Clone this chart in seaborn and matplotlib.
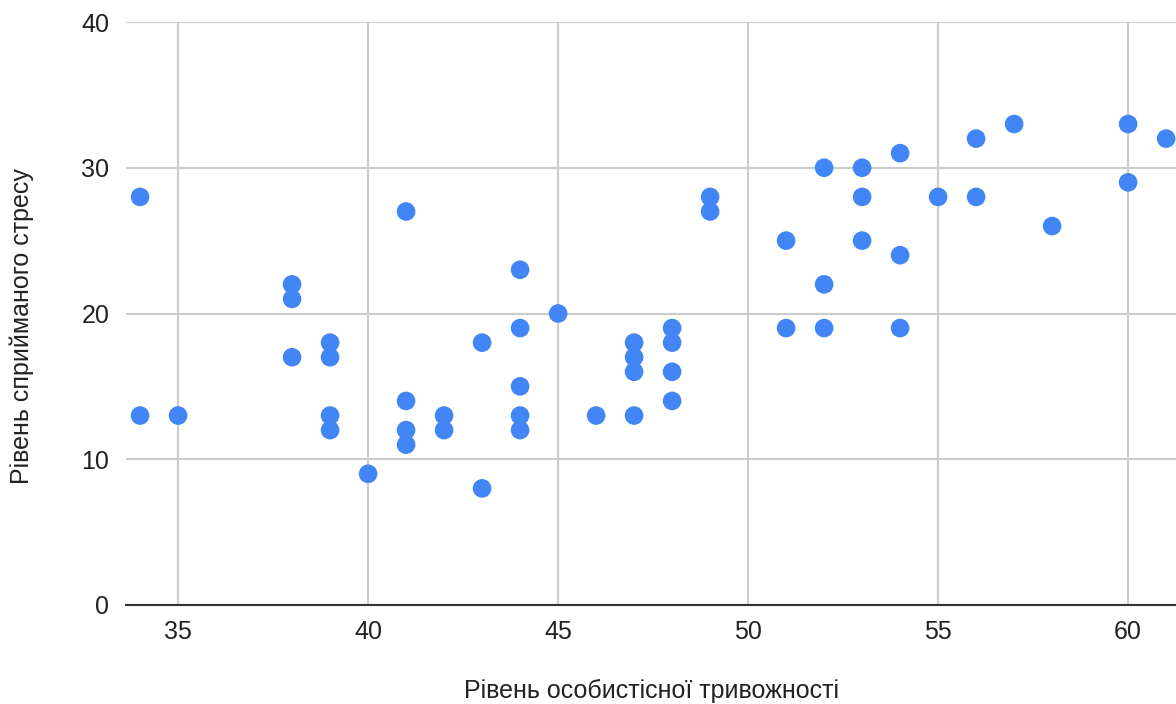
import pandas as pd
import seaborn as sns
import matplotlib.pyplot as plt

# Особистісна тривожність vs сприйманий стрес
anxiety = [34, 34, 35,
           38, 38, 38,
           39, 39, 39, 39,
           40,
           41, 41, 41, 41,
           42, 42,
           43, 43,
           44, 44, 44, 44, 44,
           45,
           46,
           47, 47, 47, 47,
           48, 48, 48, 48,
           49, 49,
           51, 51,
           52, 52, 52,
           53, 53, 53,
           54, 54, 54,
           55,
           56, 56,
           57,
           58,
           60, 60,
           61]
stress = [28, 13, 13,
          22, 21, 17,
          18, 17, 13, 12,
          9,
          27, 14, 12, 11,
          13, 12,
          18, 8,
          23, 19, 15, 13, 12,
          20,
          13,
          18, 17, 16, 13,
          19, 18, 16, 14,
          28, 27,
          25, 19,
          30, 22, 19,
          30, 28, 25,
          31, 24, 19,
          28,
          32, 28,
          33,
          26,
          33, 29,
          32]

x_label = "Рівень особистісної тривожності"
y_label = "Рівень сприйманого стресу"

df = pd.DataFrame({"x": anxiety, "y": stress})

sns.set_style("white")
plt.rcParams['font.family'] = ['Liberation Sans', 'DejaVu Sans']

fig = plt.figure(figsize=(11.76, 7.04), dpi=100)
ax = fig.add_axes([126 / 1176, 1 - 605 / 704, 1 - 126 / 1176, (605 - 22) / 704])

ax.grid(True, color="#cccccc", linewidth=1.5)
ax.set_axisbelow(True)
sns.scatterplot(data=df, x="x", y="y", ax=ax, color="#4285f4", s=180,
                edgecolor="none", linewidth=0, zorder=3)

ax.set_xlim(33.63, 61.26)
ax.set_ylim(0, 40)
ax.set_xticks([35, 40, 45, 50, 55, 60])
ax.set_yticks([0, 10, 20, 30, 40])

for side in ["top", "right", "left"]:
    ax.spines[side].set_visible(False)
ax.spines["bottom"].set_color("#333333")
ax.spines["bottom"].set_linewidth(1.5)
ax.spines["bottom"].set_zorder(4)

ax.tick_params(axis="both", length=0, labelsize=18, labelcolor="#222222")
ax.tick_params(axis="y", pad=12)
ax.tick_params(axis="x", pad=11)

ax.set_xlabel(x_label, fontsize=18, color="#222222")
ax.set_ylabel(y_label, fontsize=18, color="#222222")
ax.xaxis.set_label_coords((651 - 126) / 1050, (605 - 691) / 583)
ax.xaxis.label.set_va("center")
ax.yaxis.set_label_coords((22 - 126) / 1050, (605 - 326) / 583)
ax.yaxis.label.set_va("center")

plt.savefig("out.png", dpi=100)
